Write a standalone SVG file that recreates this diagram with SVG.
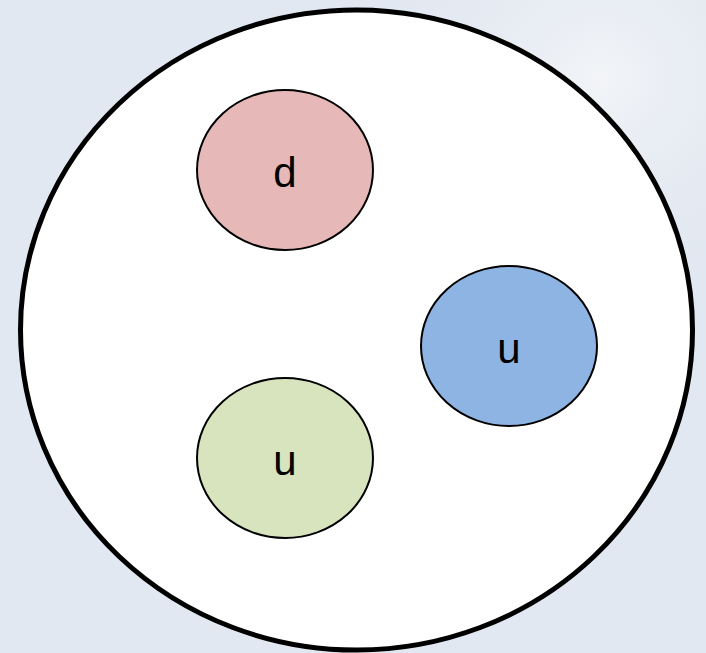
<svg xmlns="http://www.w3.org/2000/svg" width="706" height="653" viewBox="0 0 706 653">
<defs>
<style>
.q{stroke:#000;stroke-width:2}
.t{font-family:"Liberation Sans",Arial,sans-serif;font-size:42px;fill:#000;text-anchor:middle}
</style>
<radialGradient id="hl" cx="0.85" cy="0.12" r="0.35">
<stop offset="0" stop-color="#F2F4F7"/>
<stop offset="1" stop-color="#E3E9F2" stop-opacity="0"/>
</radialGradient>
</defs>
<rect width="706" height="653" fill="#E2E8F1"/>
<rect width="706" height="653" fill="url(#hl)"/>
<g id="proton">
<ellipse cx="356.5" cy="330" rx="336" ry="320" fill="#fff" stroke="#000" stroke-width="5"/>
</g>
<g id="quark-d">
<ellipse class="q" cx="285" cy="170" rx="88" ry="80" fill="#E6B8B7"/>
<text class="t" x="285" y="187">d</text>
</g>
<g id="quark-u1">
<ellipse class="q" cx="509" cy="346" rx="88" ry="80" fill="#8EB4E3"/>
<text class="t" x="509" y="363">u</text>
</g>
<g id="quark-u2">
<ellipse class="q" cx="285" cy="458" rx="88" ry="80" fill="#D7E4BD"/>
<text class="t" x="285" y="475">u</text>
</g>
<g id="connectors"/>
</svg>
